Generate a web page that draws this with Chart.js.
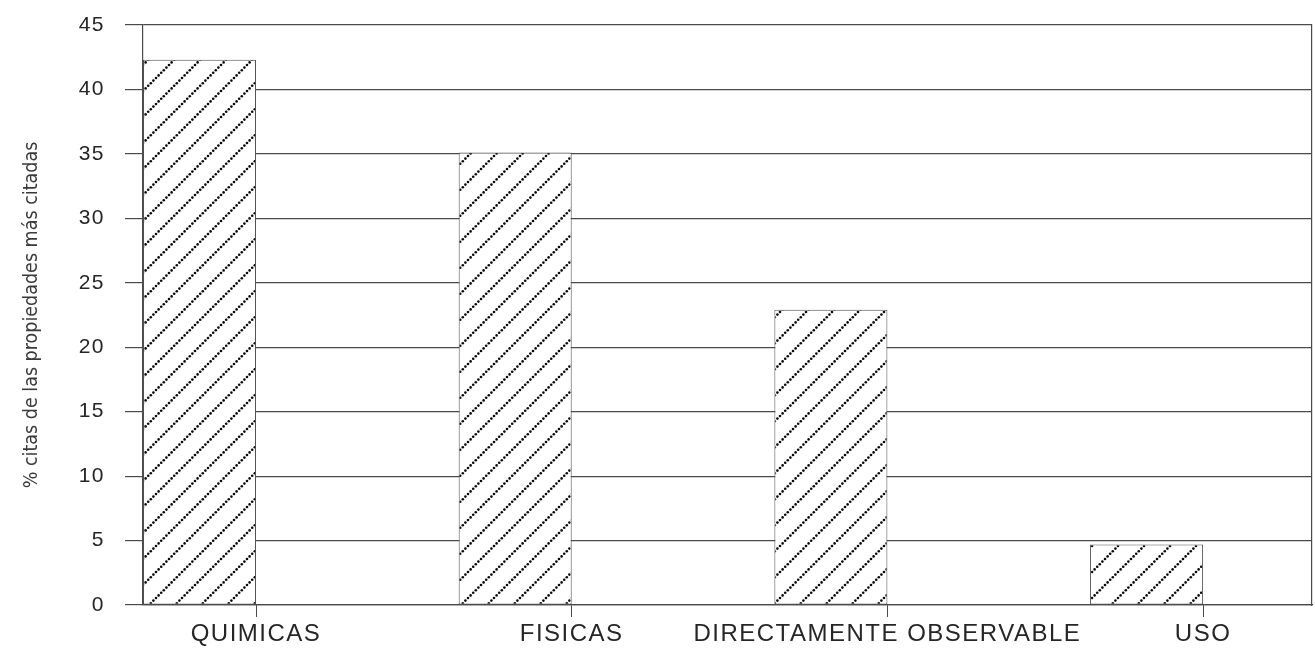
<!DOCTYPE html>
<html>
<head>
<meta charset="utf-8">
<script src="https://cdn.jsdelivr.net/npm/chart.js@4.4.1/dist/chart.umd.min.js"></script>
<style>
html, body { margin: 0; padding: 0; background: #fff; }
#wrap { width: 1315px; height: 648px; }
</style>
</head>
<body>
<div id="wrap"><canvas id="propChart"></canvas></div>
<script>
const categories = ["QUIMICAS", "FISICAS", "DIRECTAMENTE OBSERVABLE", "USO"];
const citas = [42.3, 35.1, 22.9, 4.7];
const yTicks = [0, 5, 10, 15, 20, 25, 30, 35, 40, 45];
const yTitle = "% citas de las propiedades más citadas";

const ctx = document.getElementById("propChart").getContext("2d");
const barFrac = 0.358;
const lineColor = "#4a4a4a";
const textColor = "#262626";

// dotted diagonal hatching like the scanned figure
function makeHatch() {
    const size = 26;
    const c = document.createElement("canvas");
    c.width = size;
    c.height = size;
    const g = c.getContext("2d");
    g.fillStyle = "#fff";
    g.fillRect(0, 0, size, size);
    g.fillStyle = "#0a0a0a";
    const n = 10;
    for (let k = 0; k < n; k++) {
        const t = k / n * size;
        for (const dx of [-size, 0, size]) {
            for (const dy of [-size, 0, size]) {
                g.beginPath();
                g.arc(t + dx, size - t + dy, 1.3, 0, Math.PI * 2);
                g.fill();
            }
        }
    }
    return ctx.createPattern(c, "repeat");
}

// tick labels are drawn after the bars (ticks.z = 1) with wide tracking,
// the axis title before them without it
const spacing = {
    id: "spacing",
    beforeLayout(chart) { chart.ctx.letterSpacing = "1.5px"; },
    beforeDraw(chart) { chart.ctx.letterSpacing = "0px"; },
    beforeDatasetsDraw(chart) { chart.ctx.letterSpacing = "1.5px"; }
};

new Chart(ctx, {
    type: "bar",
    data: {
        datasets: [
            {
                data: categories.map((c, i) => ({ x: i, y: citas[i] })),
                backgroundColor: makeHatch(),
                borderColor: "#505050",
                borderWidth: 1,
                borderSkipped: false,
                barPercentage: barFrac,
                categoryPercentage: 1
            }
        ]
    },
    options: {
        responsive: true,
        maintainAspectRatio: false,
        animation: false,
        layout: { padding: { top: 25, left: 0, right: 0, bottom: 0 } },
        plugins: {
            legend: { display: false },
            tooltip: { enabled: false }
        },
        scales: {
            x: {
                type: "linear",
                offset: false,
                min: -0.179,
                max: 3.524,
                afterBuildTicks: s => {
                    s.ticks = categories.map((c, i) => ({ value: i + barFrac / 2 }));
                },
                afterFit: s => { s.height = 43; s.paddingLeft = 0; s.paddingRight = 0; },
                grid: { display: true, drawOnChartArea: false, offset: false, tickLength: 12, color: lineColor, lineWidth: 1 },
                border: { display: true, color: lineColor, width: 1.2 },
                ticks: {
                    z: 1,
                    autoSkip: false,
                    maxRotation: 0,
                    padding: 3,
                    color: textColor,
                    font: { family: "'Liberation Sans', Arial, sans-serif", size: 24 },
                    callback: (v, i) => categories[i]
                }
            },
            y: {
                min: yTicks[0],
                max: yTicks[yTicks.length - 1],
                afterFit: s => { s.width = 143; s.paddingTop = 0; s.paddingBottom = 0; },
                grid: { color: lineColor, lineWidth: 1.2, tickLength: 18 },
                border: { display: true, color: lineColor, width: 1.2 },
                ticks: {
                    z: 1,
                    stepSize: yTicks[1] - yTicks[0],
                    padding: 20,
                    color: textColor,
                    font: { family: "'Liberation Sans', Arial, sans-serif", size: 21 }
                },
                title: {
                    display: true,
                    text: yTitle,
                    color: "#3a3a3a",
                    padding: { top: 20, bottom: 0 },
                    font: { family: "'DejaVu Sans Condensed', 'Liberation Sans Narrow', sans-serif", size: 19.5 }
                }
            },
            y2: {
                position: "right",
                afterFit: s => { s.width = 3; },
                grid: { display: false },
                ticks: { display: false },
                border: { display: true, color: lineColor, width: 1.2 }
            }
        }
    },
    plugins: [spacing]
});
</script>
</body>
</html>
